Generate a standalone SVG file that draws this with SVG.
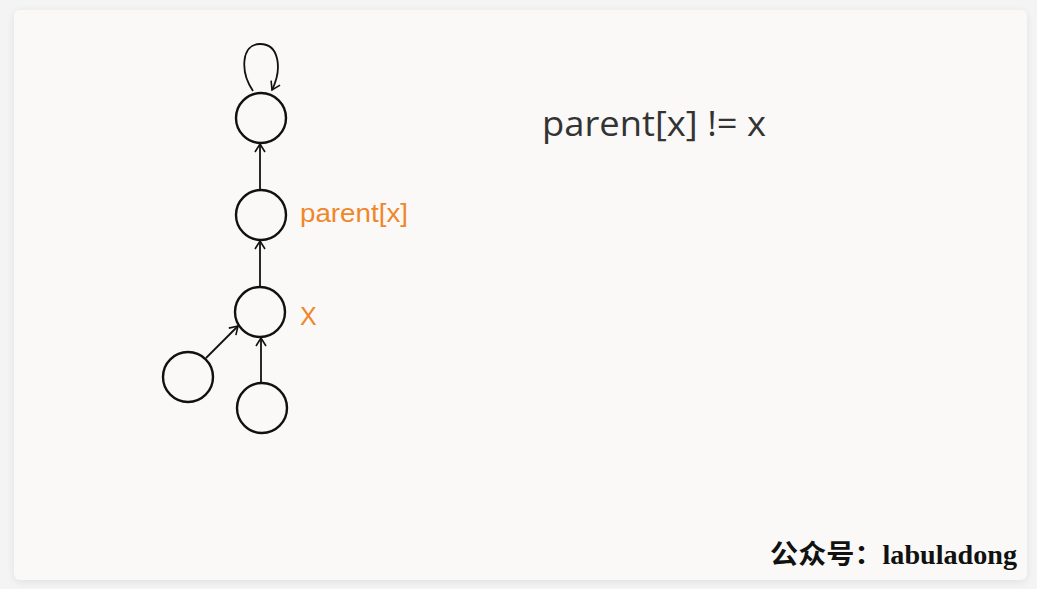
<svg xmlns="http://www.w3.org/2000/svg" width="1037" height="589" viewBox="0 0 1037 589">
<defs>
<filter id="sh" x="-5%" y="-5%" width="110%" height="110%"><feGaussianBlur stdDeviation="4"/></filter>
<marker id="ah" viewBox="0 0 12 12" refX="10" refY="6" markerWidth="12" markerHeight="12" markerUnits="userSpaceOnUse" orient="auto"><path d="M2,1 L10,6 L2,11" fill="none" stroke="#111" stroke-width="1.6"/></marker>
</defs>
<style>
.n{fill:none;stroke:#111;stroke-width:2.4}
.e{fill:none;stroke:#111;stroke-width:1.8;marker-end:url(#ah)}
.lbl{fill:#f0862a;font-family:"Comic Sans MS","Liberation Sans",sans-serif;font-size:25px}
</style>
<rect x="0" y="0" width="1037" height="589" fill="#f4f4f4"/>
<rect x="14" y="12" width="1013" height="570" rx="6" fill="#000" opacity="0.08" filter="url(#sh)"/>
<rect x="14" y="10" width="1013" height="570" rx="6" fill="#faf9f7"/>
<g id="connectors">
<path class="e" d="M253,91 C240,72 241,44 260,44 C280,44 282,70 272,90"/>
<line class="e" x1="260" y1="190" x2="260" y2="144"/>
<line class="e" x1="260" y1="287" x2="260" y2="241"/>
<line class="e" x1="206" y1="358" x2="238" y2="326"/>
<line class="e" x1="261" y1="383" x2="261" y2="338"/>
</g>
<g id="node-root"><circle class="n" cx="261" cy="118" r="25"/></g>
<g id="node-parent"><circle class="n" cx="261" cy="215" r="25"/><text class="lbl" x="300" y="222" textLength="108" lengthAdjust="spacingAndGlyphs">parent[x]</text></g>
<g id="node-x"><circle class="n" cx="260" cy="312" r="25"/><text class="lbl" x="300" y="325">X</text></g>
<g id="node-left"><circle class="n" cx="188" cy="377" r="25"/></g>
<g id="node-bottom"><circle class="n" cx="262" cy="408" r="25"/></g>
<text x="542" y="136" font-family="'Open Sans','Noto Sans',sans-serif" font-size="35" fill="#333" textLength="224" lengthAdjust="spacingAndGlyphs">parent[x] != x</text>
<text x="770" y="564" font-family="'Liberation Serif','Noto Sans CJK SC',serif" font-weight="bold" font-size="27" fill="#111" textLength="247" lengthAdjust="spacingAndGlyphs">公众号：labuladong</text>
</svg>
